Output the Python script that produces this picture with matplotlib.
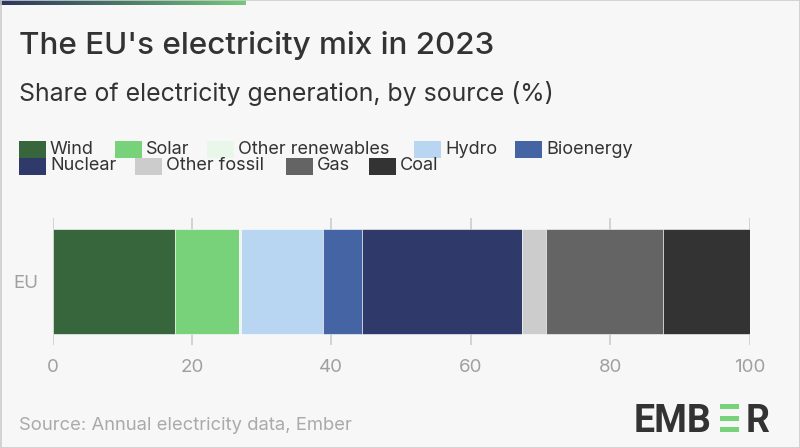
import numpy as np
import matplotlib
matplotlib.use('Agg')
import matplotlib.pyplot as plt
from matplotlib.patches import Rectangle
from matplotlib.colors import LinearSegmentedColormap

# EU electricity generation 2023, share by source (%)
region = ['EU']
sources = ['Wind', 'Solar', 'Other renewables', 'Hydro', 'Bioenergy',
           'Nuclear', 'Other fossil', 'Gas', 'Coal']
shares = [17.6, 9.1, 0.3, 11.8, 5.6, 22.9, 3.5, 16.8, 12.4]
colors = ['#37663c', '#78d279', '#e8f7ea', '#b8d5f2', '#4464a4',
          '#2f3a6b', '#cccccc', '#646464', '#333333']
x_ticks = [0, 20, 40, 60, 80, 100]

# legend layout (pixels from left, row index), flows like the original
legend_pos = [(19, 0), (115, 0), (207, 0), (414, 0), (515, 0),
              (19, 1), (135, 1), (286, 1), (369, 1)]

W, H = 800, 448
bg = '#f7f7f7'
plt.rcParams['font.family'] = ['Inter', 'DejaVu Sans']

fig = plt.figure(figsize=(W / 100, H / 100), dpi=100, facecolor=bg)


def px(x, y):
    return x / W, 1 - y / H


# gradient stripe at the top
grad = fig.add_axes([0, 1 - 5 / H, 245 / W, 5 / H])
cmap = LinearSegmentedColormap.from_list('ember', ['#2d3561', '#4a7a66', '#74c97c'])
grad.imshow(np.linspace(0, 1, 256)[None, :], aspect='auto', cmap=cmap)
grad.axis('off')

# border
fig.patches.append(Rectangle((0.5 / W, 0.5 / H), 1 - 1 / W, 1 - 1 / H, transform=fig.transFigure,
                             fill=False, edgecolor='#cccccc', lw=1.2))

fig.text(*px(19, 46), "The EU's electricity mix in 2023", fontsize=22.6, fontweight='medium',
         color='#333333', va='center', ha='left')
fig.text(*px(19, 93), 'Share of electricity generation, by source (%)', fontsize=17.9,
         color='#333333', va='center', ha='left')

# legend
for name, col, (lx, row) in zip(sources, colors, legend_pos):
    ty = 141 + row * 17
    fig.patches.append(Rectangle(px(lx, ty + 17), 27 / W, 17 / H, transform=fig.transFigure,
                                 facecolor=col, edgecolor='none'))
    fig.text(*px(lx + 31, ty + 8), name, fontsize=13, color='#333333',
             va='center', ha='left')

# main chart
ax = fig.add_axes([52.5 / W, 1 - 345 / H, 697 / W, 127 / H])
ax.set_facecolor(bg)
left = 0
for name, val, col in zip(sources, shares, colors):
    ax.barh(region, val, left=left, height=0.83, color=col, edgecolor='white',
            linewidth=0.4, zorder=3)
    left += val

ax.set_xlim(0, 100)
ax.set_ylim(-0.5, 0.5)
ax.set_xticks(x_ticks)
ax.grid(axis='x', color='#cccccc', lw=1.2, zorder=0)
ax.tick_params(axis='both', length=0, labelsize=13.5, labelcolor='#a0a0a0')
ax.tick_params(axis='x', pad=10)
ax.tick_params(axis='y', pad=10)
for s in ax.spines.values():
    s.set_visible(False)

fig.text(*px(19, 425), 'Source: Annual electricity data, Ember', fontsize=13.3,
         color='#aaaaaa', va='center', ha='left')

# EMBER logo: letters plus a green "E" made of bars
logo_kw = dict(fontsize=27, fontweight='bold', color='#333333', va='baseline', ha='left',
               family=['Roboto', 'DejaVu Sans'])
fig.text(*px(634, 431.5), 'EMB', **logo_kw)
for by in (404, 415.5, 426.5):
    fig.patches.append(Rectangle(px(720, by + 5), 19 / W, 5 / H,
                                 transform=fig.transFigure, facecolor='#78d279'))
fig.text(*px(746, 431.5), 'R', **logo_kw)

fig.savefig('out.png', dpi=100, facecolor=bg)
